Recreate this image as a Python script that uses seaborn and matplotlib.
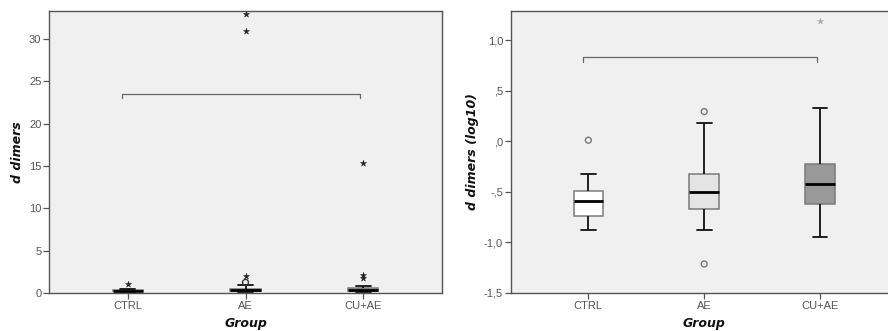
import matplotlib
matplotlib.use("Agg")
import matplotlib.pyplot as plt
import seaborn as sns
import pandas as pd
from matplotlib.ticker import FuncFormatter

# ---------------- data ----------------
groups = ["CTRL", "AE", "CU+AE"]
box_colors = ["#ffffff", "#e4e4e4", "#999999"]

# five-number summaries (min whisker, Q1, median, Q3, max whisker), linear scale
lin_ctrl = [0.13, 0.18, 0.25, 0.32, 0.47]
lin_ae = [0.13, 0.21, 0.32, 0.48, 0.90]
lin_cuae = [0.11, 0.24, 0.37, 0.60, 0.80]
# outliers, linear scale
lin_circle_group = ["AE"]
lin_circle_val = [1.26]
lin_star_group = ["CTRL", "AE", "AE", "AE", "CU+AE", "CU+AE", "CU+AE"]
lin_star_val = [1.03, 1.97, 30.9, 33.0, 1.75, 2.15, 15.4]

# five-number summaries, log10 scale
log_ctrl = [-0.877, -0.739, -0.594, -0.495, -0.324]
log_ae = [-0.877, -0.670, -0.499, -0.321, 0.177]
log_cuae = [-0.950, -0.617, -0.426, -0.222, 0.328]
log_circle_group = ["CTRL", "AE", "AE"]
log_circle_val = [0.012, 0.295, -1.213]
log_star_group = ["CU+AE"]
log_star_val = [1.19]

lin_ylim = (0, 33.3)
log_ylim = (-1.5, 1.29)
lin_yticks = [0, 5, 10, 15, 20, 25, 30]
log_yticks = [-1.5, -1.0, -0.5, 0.0, 0.5, 1.0]
lin_bracket_y = [23.0, 23.5]
log_bracket_y = [0.79, 0.835]

# ---------------- figure ----------------
sns.set_theme(style="ticks")
plt.rcParams["font.family"] = ["Liberation Sans", "DejaVu Sans"]

fig = plt.figure(figsize=(8.88, 3.31), dpi=100)
ax1 = fig.add_axes([49 / 888, 38 / 331, 393 / 888, 282 / 331])
ax2 = fig.add_axes([510.7 / 888, 38 / 331, 387 / 888, 282 / 331])

label_font = dict(family=["Liberation Sans Narrow", "DejaVu Sans"], weight="bold",
                  style="italic", size=9, color="#111111")


def build_df(stats_list):
    rows = []
    for g, vals in zip(groups, stats_list):
        for v in vals:
            rows.append({"Group": g, "value": v})
    return pd.DataFrame(rows)


def draw(ax, stats_list, circ_g, circ_v, star_g, star_v, ylim, yticks,
         bracket_y, fmt, circ_color, star_color, star_size):
    ax.set_facecolor("#f0f0f0")
    df = build_df(stats_list)
    sns.boxplot(data=df, x="Group", y="value", hue="Group", order=groups,
                hue_order=groups, palette=box_colors, legend=False,
                whis=(0, 100), showfliers=False, width=0.255, dodge=False,
                linecolor="black", linewidth=1.3, ax=ax,
                medianprops=dict(color="black", linewidth=2.0),
                whiskerprops=dict(color="#111111", linewidth=1.3),
                capprops=dict(color="#111111", linewidth=1.3),
                capwidths=0.127)
    for p in ax.patches:
        p.set_edgecolor("#7a7a7a")
        p.set_linewidth(1.1)
    cdf = pd.DataFrame({"Group": circ_g, "value": circ_v})
    sns.scatterplot(data=cdf, x="Group", y="value", marker="o", s=18,
                    facecolor="none", edgecolor=circ_color, linewidth=1.0,
                    ax=ax, zorder=5)
    sdf = pd.DataFrame({"Group": star_g, "value": star_v})
    sns.scatterplot(data=sdf, x="Group", y="value", marker="*", s=star_size,
                    color=star_color, edgecolor=star_color, linewidth=0.3,
                    ax=ax, zorder=5)
    # bracket
    x0, x1 = -0.05, 1.97
    ax.plot([x0, x0, x1, x1], [bracket_y[0], bracket_y[1], bracket_y[1], bracket_y[0]],
            color="#666666", lw=0.9, zorder=3)
    ax.set_xlim(-0.67, 2.67)
    ax.set_ylim(*ylim)
    ax.set_yticks(yticks)
    ax.yaxis.set_major_formatter(FuncFormatter(fmt))
    for s in ax.spines.values():
        s.set_color("#555555")
        s.set_linewidth(1.0)
    ax.tick_params(axis="both", colors="#555555", labelcolor="#555555",
                   labelsize=8, length=4.5, width=0.9, direction="out", pad=1)
    ax.set_xlabel("Group", fontdict=label_font, labelpad=4.5)


def lin_fmt(v, pos):
    return f"{v:g}"


def log_fmt(v, pos):
    s = f"{v:.1f}".replace(".", ",")
    if s.startswith("0,"):
        s = s[1:]
    elif s.startswith("-0,"):
        s = "-" + s[2:]
    if s == "-,0":
        s = ",0"
    return s


draw(ax1, [lin_ctrl, lin_ae, lin_cuae], lin_circle_group, lin_circle_val,
     lin_star_group, lin_star_val, lin_ylim, lin_yticks, lin_bracket_y,
     lin_fmt, "#333333", "#222222", 22)
ax1.set_ylabel("d dimers", fontdict=label_font)
ax1.yaxis.set_label_coords(-(49 - 24) / 393, 0.5)

draw(ax2, [log_ctrl, log_ae, log_cuae], log_circle_group, log_circle_val,
     log_star_group, log_star_val, log_ylim, log_yticks, log_bracket_y,
     log_fmt, "#777777", "#aaaaaa", 20)
ax2.set_ylabel("d dimers (log10)", fontdict=label_font)
ax2.yaxis.set_label_coords(-(510.7 - 479) / 387, 0.5)

fig.savefig("out.png", dpi=100)
